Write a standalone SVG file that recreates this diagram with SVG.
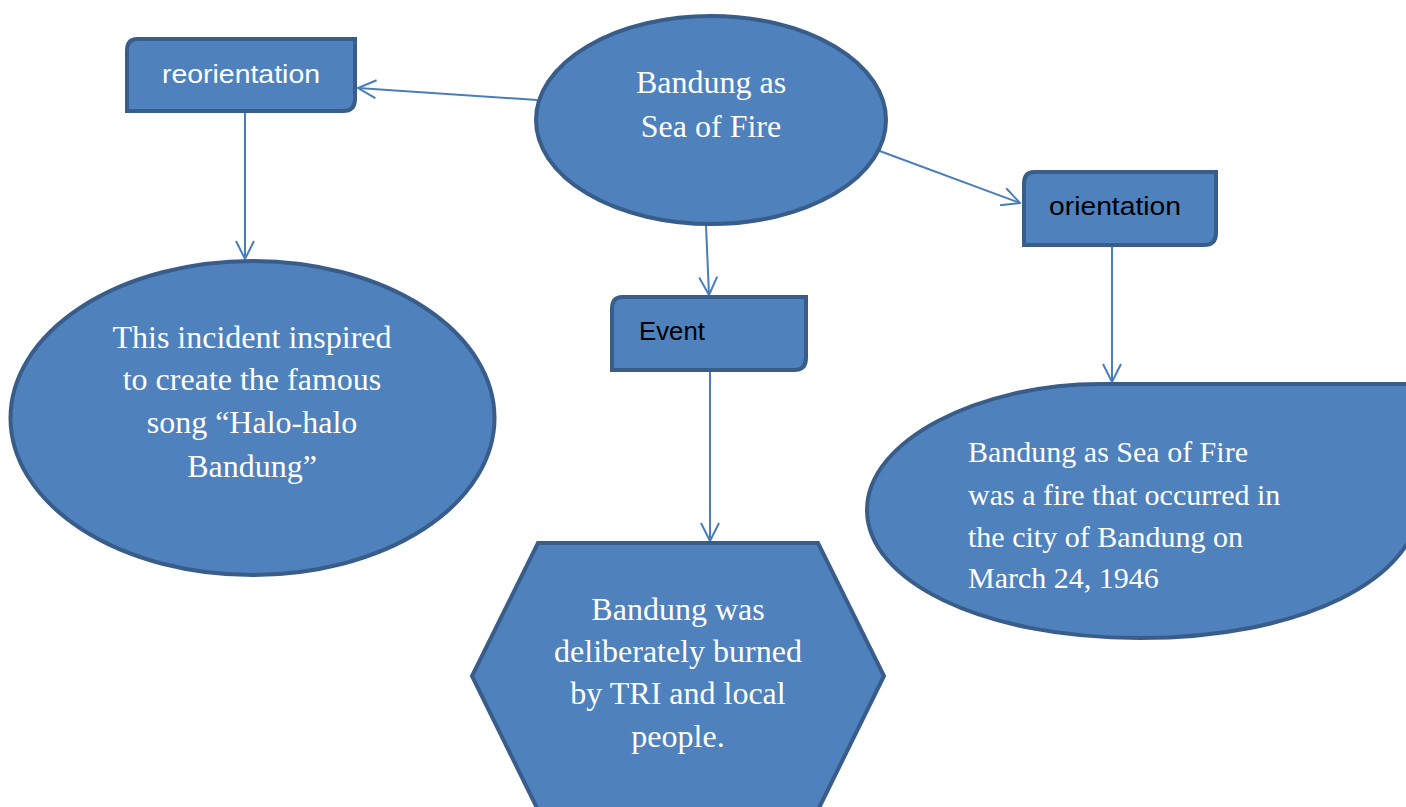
<svg xmlns="http://www.w3.org/2000/svg" width="1406" height="807" viewBox="0 0 1406 807">
<style>
.shape{fill:#4F81BD;stroke:#385D8A;stroke-width:4}
.conn{fill:none;stroke:#4A7EBB;stroke-width:2}
.serif{font-family:"Liberation Serif","Times New Roman",serif;font-size:32px;fill:#FFFFFF}
.serif30{font-family:"Liberation Serif","Times New Roman",serif;font-size:30px;fill:#FFFFFF}
.sans{font-family:"Liberation Sans",Arial,sans-serif;font-size:25px}
</style>
<defs>
<marker id="arr" viewBox="0 0 20 20" markerWidth="20" markerHeight="20" refX="19" refY="10" orient="auto" markerUnits="userSpaceOnUse">
<path d="M1,1 L19,10 L1,19" fill="none" stroke="#4A7EBB" stroke-width="2"/>
</marker>
</defs>
<rect width="1406" height="807" fill="#FFFFFF"/>
<g id="connectors">
<line class="conn" x1="537" y1="100" x2="358" y2="88" marker-end="url(#arr)"/>
<line class="conn" x1="877" y1="150" x2="1020" y2="203" marker-end="url(#arr)"/>
<line class="conn" x1="706" y1="225" x2="709" y2="295" marker-end="url(#arr)"/>
<line class="conn" x1="245" y1="113" x2="245" y2="259" marker-end="url(#arr)"/>
<line class="conn" x1="710" y1="372" x2="710" y2="541" marker-end="url(#arr)"/>
<line class="conn" x1="1112" y1="247" x2="1112" y2="382" marker-end="url(#arr)"/>
</g>
<g id="center">
<ellipse class="shape" cx="711" cy="120" rx="175" ry="104"/>
<text class="serif" text-anchor="middle" x="711" y="93">Bandung as</text>
<text class="serif" text-anchor="middle" x="711" y="137">Sea of Fire</text>
</g>
<g id="reorientation">
<path class="shape" d="M137,39 H355 V99 Q355,111 343,111 H127 V51 Q127,39 137,39 Z"/>
<text class="sans" x="162" y="83" fill="#FFFFFF" textLength="158" lengthAdjust="spacingAndGlyphs">reorientation</text>
</g>
<g id="orientation">
<path class="shape" d="M1034,172 H1216 V233 Q1216,245 1204,245 H1024 V184 Q1024,172 1034,172 Z"/>
<text class="sans" x="1049" y="215" fill="#000000" textLength="132" lengthAdjust="spacingAndGlyphs">orientation</text>
</g>
<g id="event">
<path class="shape" d="M622,297 H806 V358 Q806,370 794,370 H612 V309 Q612,297 622,297 Z"/>
<text class="sans" x="639" y="340" fill="#000000" textLength="66" lengthAdjust="spacingAndGlyphs">Event</text>
</g>
<g id="song">
<ellipse class="shape" cx="252.5" cy="418" rx="242" ry="157"/>
<text class="serif" text-anchor="middle" x="252" y="348">This incident inspired</text>
<text class="serif" text-anchor="middle" x="252" y="390">to create the famous</text>
<text class="serif" text-anchor="middle" x="252" y="433">song “Halo-halo</text>
<text class="serif" text-anchor="middle" x="252" y="477">Bandung”</text>
</g>
<g id="burned">
<path class="shape" d="M538,543 H818 L884,676 L818,810 H538 L472,676 Z"/>
<text class="serif" text-anchor="middle" x="678" y="620">Bandung was</text>
<text class="serif" text-anchor="middle" x="678" y="662">deliberately burned</text>
<text class="serif" text-anchor="middle" x="678" y="704">by TRI and local</text>
<text class="serif" text-anchor="middle" x="678" y="747">people.</text>
</g>
<g id="fire">
<path class="shape" d="M1100,384 L1420,384 L1420,500 C1420,580 1300,638 1140,638 C980,638 867,580 867,510 C867,440 980,384 1100,384 Z"/>
<text class="serif30" x="968" y="462">Bandung as Sea of Fire</text>
<text class="serif30" x="968" y="505">was a fire that occurred in</text>
<text class="serif30" x="968" y="547">the city of Bandung on</text>
<text class="serif30" x="968" y="588">March 24, 1946</text>
</g>
</svg>
